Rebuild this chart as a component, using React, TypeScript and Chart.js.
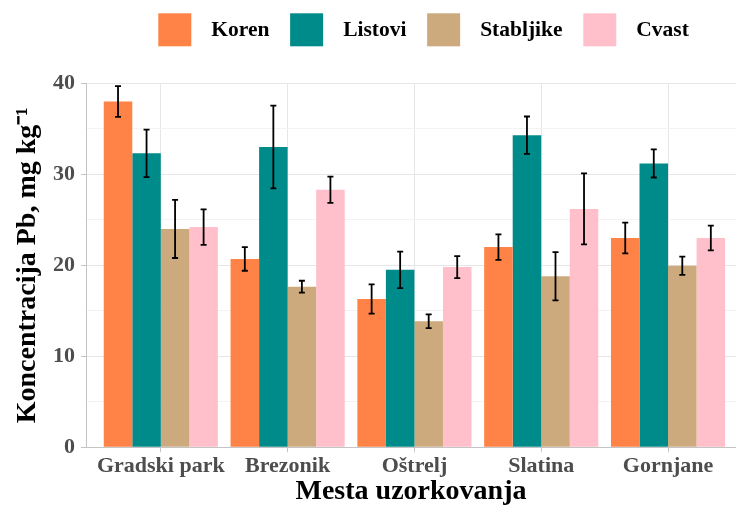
import { useEffect, useRef } from 'react';
import { Chart, registerables } from 'chart.js';

Chart.register(...registerables);

const categories = ['Gradski park', 'Brezonik', 'Oštrelj', 'Slatina', 'Gornjane'];
const seriesNames = ['Koren', 'Listovi', 'Stabljike', 'Cvast'];
const seriesColors = ['#FF8247', '#008B8B', '#CDAA7D', '#FFC0CB'];

const koren = [38.0, 20.7, 16.3, 22.0, 23.0];
const korenErr = [1.7, 1.3, 1.6, 1.4, 1.7];
const listovi = [32.3, 33.0, 19.5, 34.3, 31.2];
const listoviErr = [2.6, 4.55, 2.0, 2.05, 1.55];
const stabljike = [24.0, 17.65, 13.85, 18.8, 19.95];
const stabljikeErr = [3.2, 0.65, 0.75, 2.65, 1.0];
const cvast = [24.2, 28.3, 19.8, 26.2, 23.0];
const cvastErr = [1.95, 1.45, 1.2, 3.9, 1.35];

const seriesValues = [koren, listovi, stabljike, cvast];
const seriesErrors = [korenErr, listoviErr, stabljikeErr, cvastErr];

const yMin = 0;
const yMax = 40;
const yStep = 5;

const FONT = '"Liberation Serif", "Times New Roman", serif';

const errorBarPlugin = {
  id: 'errorBars',
  afterDatasetsDraw(chart: any) {
    const ctx = chart.ctx;
    const ys = chart.scales.y;
    chart.data.datasets.forEach((ds: any, di: number) => {
      const meta = chart.getDatasetMeta(di);
      meta.data.forEach((bar: any, i: number) => {
        const v = ds.data[i].y;
        const e = ds.errors[i];
        const top = ys.getPixelForValue(v + e);
        const bot = ys.getPixelForValue(v - e);
        const x = bar.x;
        ctx.save();
        ctx.strokeStyle = '#000000';
        ctx.lineWidth = 1.8;
        ctx.beginPath();
        ctx.moveTo(x, top);
        ctx.lineTo(x, bot);
        ctx.moveTo(x - 3, top);
        ctx.lineTo(x + 3, top);
        ctx.moveTo(x - 3, bot);
        ctx.lineTo(x + 3, bot);
        ctx.stroke();
        ctx.restore();
      });
    });
  },
};

const legendPlugin = {
  id: 'topLegend',
  afterDraw(chart: any) {
    const ctx = chart.ctx;
    ctx.save();
    ctx.font = `bold 21.5px ${FONT}`;
    ctx.textBaseline = 'middle';
    ctx.textAlign = 'left';
    let x = 158.3;
    const y0 = 13.3;
    const box = 33;
    chart.data.datasets.forEach((ds: any) => {
      ctx.fillStyle = ds.backgroundColor;
      ctx.fillRect(x, y0, box, box);
      x += box + 20;
      ctx.fillStyle = '#000000';
      ctx.fillText(ds.label, x, y0 + box / 2 + 1);
      x += ctx.measureText(ds.label).width + 20.7;
    });
    ctx.restore();
  },
};

export default function App() {
  const ref = useRef<HTMLCanvasElement | null>(null);

  useEffect(() => {
    if (!ref.current) return;
    const chart = new Chart(ref.current, {
      type: 'bar',
      data: {
        datasets: seriesNames.map((name, s) => ({
          label: name,
          data: seriesValues[s].map((v, i) => ({ x: i, y: v })),
          errors: seriesErrors[s],
          backgroundColor: seriesColors[s],
          borderWidth: 0,
          categoryPercentage: 0.9,
          barPercentage: 1.0,
        })) as any,
      },
      options: {
        responsive: false,
        animation: false,
        layout: { padding: { top: 83.3, left: 0, right: 0, bottom: 0 } },
        plugins: {
          legend: { display: false },
          tooltip: { enabled: false },
        },
        scales: {
          x: {
            type: 'linear',
            bounds: 'data',
            min: -0.59,
            max: 4.536,
            offset: false,
            afterBuildTicks(s: any) {
              s.ticks = categories.map((_, i) => ({ value: i }));
            },
            afterFit(s: any) {
              s.height = 58.7;
            },
            ticks: {
              stepSize: 1,
              includeBounds: false,
              autoSkip: false,
              maxRotation: 0,
              minRotation: 0,
              padding: 0.5,
              color: '#4D4D4D',
              font: { family: FONT, size: 22, weight: 'bold', lineHeight: 1.2 },
              callback: (v: any) => {
                const k = Math.round(Number(v));
                return categories[k] !== undefined ? categories[k] : '';
              },
            },
            grid: {
              offset: false,
              color: '#E6E6E6',
              tickColor: '#C4C4C4',
              tickLength: 5,
              lineWidth: 1,
            },
            border: { color: '#C4C4C4', width: 1 },
            title: {
              display: true,
              text: 'Mesta uzorkovanja',
              color: '#000000',
              font: { family: FONT, size: 28, weight: 'bold', lineHeight: 1 },
              padding: { top: 0, bottom: 0 },
            },
          } as any,
          y: {
            type: 'linear',
            min: yMin,
            max: yMax,
            afterFit(s: any) {
              s.width = 86;
            },
            ticks: {
              stepSize: yStep,
              padding: 6,
              color: '#4D4D4D',
              font: { family: FONT, size: 22, weight: 'bold' },
              callback: (v: any) => (v % 10 === 0 ? String(v) : ''),
            },
            grid: {
              color: (c: any) => (c.tick && c.tick.value % 10 === 0 ? '#E6E6E6' : '#F3F3F3'),
              tickColor: (c: any) => (c.tick && c.tick.value % 10 === 0 ? '#C4C4C4' : 'rgba(0,0,0,0)'),
              tickLength: 5,
              lineWidth: 1,
            },
            border: { color: '#C4C4C4', width: 1 },
            title: {
              display: true,
              text: 'Koncentracija Pb, mg kg⁻¹',
              color: '#000000',
              font: { family: FONT, size: 28, weight: 'bold', lineHeight: 1.2 },
              padding: { top: 11, bottom: 0 },
            },
          } as any,
        },
      },
      plugins: [errorBarPlugin, legendPlugin],
    });
    return () => chart.destroy();
  }, []);

  return (
    <div style={{ position: 'absolute', left: 0, top: 0, width: 736, height: 506, background: '#ffffff' }}>
      <canvas ref={ref} width={736} height={506} style={{ width: 736, height: 506, display: 'block' }} />
    </div>
  );
}
